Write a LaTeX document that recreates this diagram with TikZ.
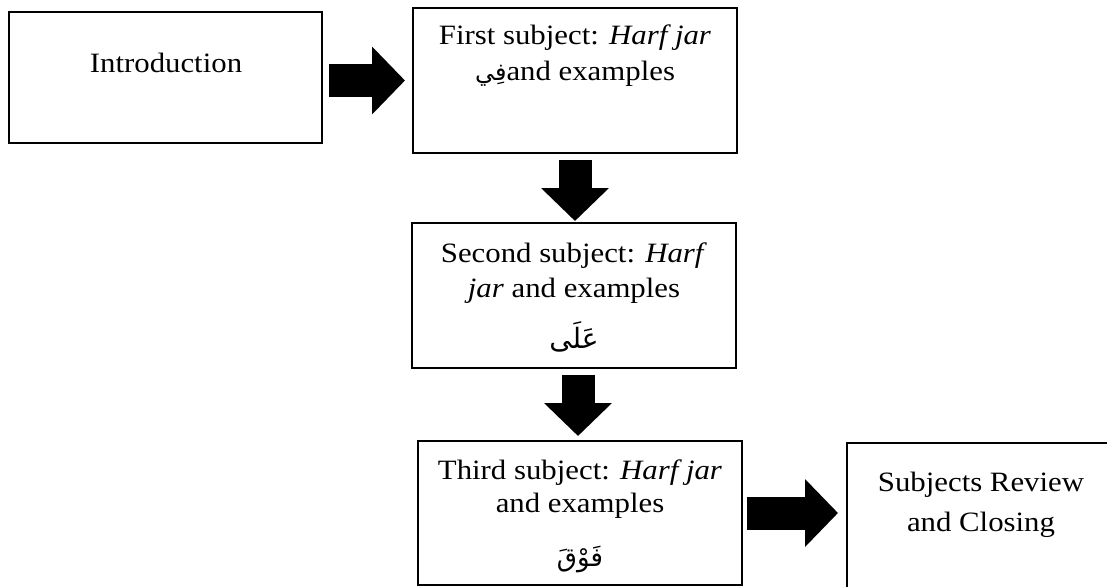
\documentclass[tikz,border=0pt]{standalone}
\usepackage{fontspec}
\setmainfont{Liberation Serif}[FakeStretch=1.1]
\newfontfamily\arabicfont[Script=Arabic]{DejaVu Sans}
\TeXXeTstate=1
\usetikzlibrary{arrows.meta,calc}
\begin{document}
\begin{tikzpicture}[x=1pt,y=-1pt,
  box/.style={draw=black,line width=2pt,fill=white,inner sep=0pt},
  txt/.style={anchor=base,inner sep=0pt,font=\fontsize{28}{34}\selectfont},
  arab/.style={anchor=base,inner sep=0pt,font=\fontsize{28}{34}\selectfont\arabicfont},
  blockarrow/.style={line width=33pt,-{Triangle[width=66pt,length=33pt]}}]
\useasboundingbox (0,0) rectangle (1107,586);
% boxes
\node[box,minimum width=313pt,minimum height=131pt] (intro) at (165.5,77.5) {};
\node[box,minimum width=324pt,minimum height=145pt] (b2) at (575,80.5) {};
\node[box,minimum width=324pt,minimum height=145pt] (b3) at (574,295.5) {};
\node[box,minimum width=324pt,minimum height=144pt] (b4) at (580,513) {};
\node[box,minimum width=268pt,minimum height=157pt] (b5) at (981,521.5) {};
% texts
\node[txt] (t1) at (166,72) {Introduction};
\node[txt] (t2a) at (575,45) {First subject: \textit{Harf jar}};
\node[txt] (t2b) at (575,80) {{\arabicfont\fontsize{24}{30}\selectfont\beginR فِي\endR}and examples};
\node[txt] (t3a) at (574,262) {Second subject: \textit{Harf}};
\node[txt] (t3b) at (574,297) {\textit{jar} and examples};
\node[arab] (t3c) at (574,348) {\beginR عَلَى\endR};
\node[txt] (t4a) at (580,479) {Third subject: \textit{Harf jar}};
\node[txt] (t4b) at (580,512) {and examples};
\node[arab,font=\fontsize{26}{32}\selectfont\arabicfont] (t4c) at (580,566) {\beginR فَوْقَ\endR};
\node[txt] (t5a) at (981,491) {Subjects Review};
\node[txt] (t5b) at (981,531) {and Closing};
% connectors
\draw[blockarrow,shorten <=6pt,shorten >=7pt] (b2.west -| intro.east) -- (b2.west);
\draw[blockarrow,shorten <=6pt,shorten >=1pt] (b2.south) -- (b3.north -| b2.south);
\draw[blockarrow,shorten <=6pt,shorten >=4pt] (b3.south -| 578,0) -- (b4.north -| 578,0);
\draw[blockarrow,shorten <=4pt,shorten >=8pt] (b4.east) -- (b4.east -| b5.west);
\end{tikzpicture}
\end{document}
